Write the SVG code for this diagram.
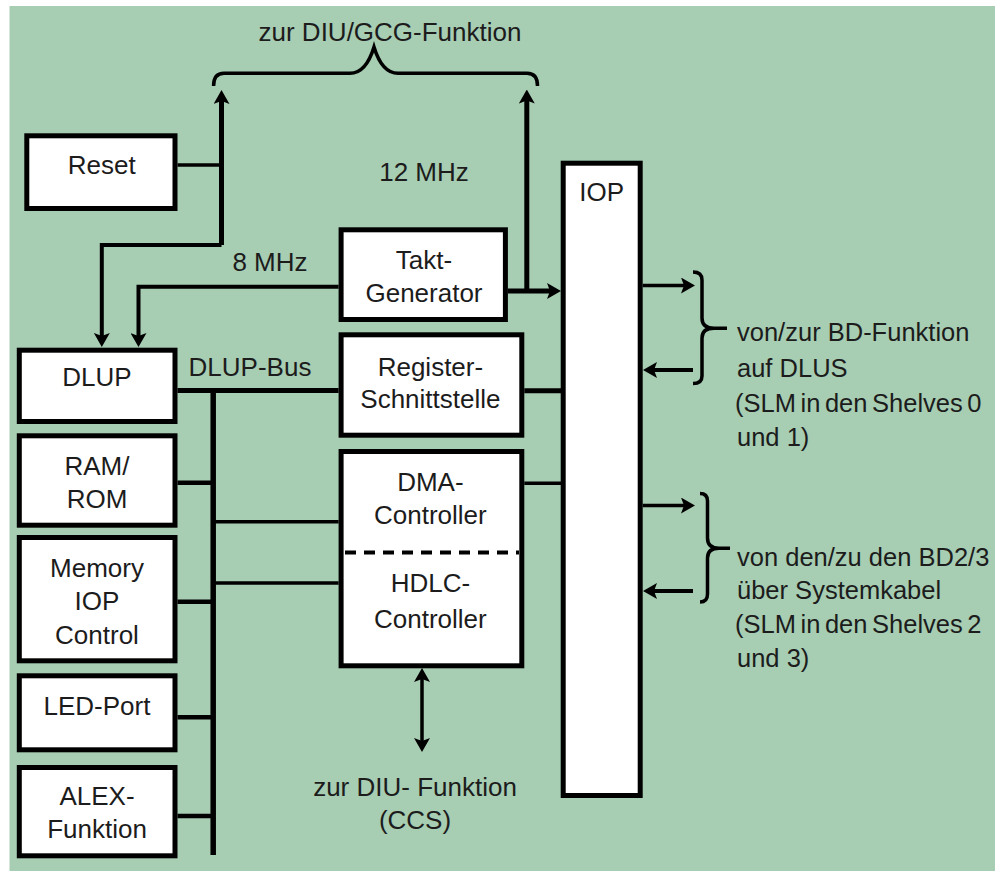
<svg xmlns="http://www.w3.org/2000/svg" width="995" height="871" viewBox="0 0 995 871">
<style>
.box{fill:#fff;stroke:#000;stroke-width:5}
.t{font-family:"Liberation Sans",Arial,sans-serif;font-size:26px;fill:#1c1c1c;text-anchor:middle}
.r{text-anchor:start;font-size:25.5px}
.w{word-spacing:-2.5px}
.c{fill:none;stroke:#000;stroke-linecap:butt;stroke-linejoin:miter}
</style>
<defs>
<marker id="ah" viewBox="0 0 14 16" markerWidth="14" markerHeight="16" refX="8" refY="8" orient="auto-start-reverse" markerUnits="userSpaceOnUse">
<path d="M0,0 L14,8 L0,16 L3,8 z" fill="#000"/>
</marker>
</defs>
<rect x="9.5" y="6" width="985.5" height="865" fill="#a7cdb3"/>
<text class="t" x="390" y="41">zur DIU/GCG-Funktion</text>
<text class="t" x="424" y="181">12 MHz</text>
<text class="t" x="270" y="271">8 MHz</text>
<text class="t" x="250" y="376">DLUP-Bus</text>
<text class="t" x="415" y="796">zur DIU- Funktion</text>
<text class="t" x="415" y="829">(CCS)</text>
<g id="labels-right">
<text class="t r" x="737" y="341">von/zur BD-Funktion</text>
<text class="t r" x="737" y="377">auf DLUS</text>
<text class="t r w" x="735" y="412">(SLM in den Shelves 0</text>
<text class="t r" x="737" y="446">und 1)</text>
<text class="t r" x="737" y="566">von den/zu den BD2/3</text>
<text class="t r" x="737" y="599">über Systemkabel</text>
<text class="t r w" x="735" y="633">(SLM in den Shelves 2</text>
<text class="t r" x="737" y="667">und 3)</text>
</g>
<g id="connectors">
<path class="c" stroke-width="3.5" d="M213.6,86 Q213.6,73.3 224,73.3 H350 Q366,73.3 374,47 Q382,73.3 398,73.3 H527 Q537.5,73.3 537.5,86"/>
<path class="c" stroke-width="3.5" d="M177.5,165 H221.5"/>
<path class="c" stroke-width="5" d="M221.5,245 V96" marker-end="url(#ah)"/>
<path class="c" stroke-width="4" d="M221.5,245 H101.8 V341" marker-end="url(#ah)"/>
<path class="c" stroke-width="4" d="M338.6,286.7 H138.5 V341" marker-end="url(#ah)"/>
<path class="c" stroke-width="5" d="M507.9,291 H555" marker-end="url(#ah)"/>
<path class="c" stroke-width="5" d="M526.8,291 V95.5" marker-end="url(#ah)"/>
<path class="c" stroke-width="5" d="M177.5,390.5 H338.6"/>
<path class="c" stroke-width="5.5" d="M213.2,388 V855"/>
<path class="c" stroke-width="5" d="M524.3,390.7 H561"/>
<path class="c" stroke-width="3.5" d="M524.3,483.3 H561"/>
<path class="c" stroke-width="3.5" d="M213,521.7 H338.6"/>
<path class="c" stroke-width="3.5" d="M213,583 H338.6"/>
<path class="c" stroke-width="4.5" d="M177.5,482.7 H213"/>
<path class="c" stroke-width="4.5" d="M177.5,601.7 H213"/>
<path class="c" stroke-width="4.5" d="M177.5,717.3 H213"/>
<path class="c" stroke-width="4.5" d="M177.5,816 H213"/>
<path class="c" stroke-width="3.5" d="M422,674 V746" marker-start="url(#ah)" marker-end="url(#ah)"/>
<path class="c" stroke-width="3.5" d="M642.7,285.5 H689" marker-end="url(#ah)"/>
<path class="c" stroke-width="4" d="M693,370 H649" marker-end="url(#ah)"/>
<path class="c" stroke-width="3.5" d="M642.7,505.5 H689" marker-end="url(#ah)"/>
<path class="c" stroke-width="4" d="M693,591 H649" marker-end="url(#ah)"/>
<path class="c" stroke-width="3.5" d="M693,272 Q702,272 702,280 V318 Q702,328.3 714,328.3 Q702,328.3 702,338 V376 Q702,383.5 693,383.5 M714,328.3 H727"/>
<path class="c" stroke-width="3.5" d="M700,493.5 Q707.5,493.5 707.5,501 V538 Q707.5,548.3 719,548.3 Q707.5,548.3 707.5,558 V594 Q707.5,602 700,602 M719,548.3 H730"/>
</g>
<g id="reset"><rect class="box" x="26.8" y="135.8" width="148.2" height="72.7"/><text class="t" x="101.8" y="174">Reset</text></g>
<g id="takt"><rect class="box" x="341.1" y="229.8" width="164.3" height="89.7"/><text class="t" x="424" y="269">Takt-</text><text class="t" x="424" y="302">Generator</text></g>
<g id="iop"><rect class="box" x="563.2" y="163.2" width="77" height="632.3"/><text class="t" x="601.7" y="201">IOP</text></g>
<g id="dlup"><rect class="box" x="19.3" y="350.2" width="155.7" height="71.3"/><text class="t" x="97" y="386">DLUP</text></g>
<g id="register"><rect class="box" x="341.1" y="334.8" width="180.7" height="100.4"/><text class="t" x="430.4" y="376">Register-</text><text class="t" x="430.4" y="408">Schnittstelle</text></g>
<g id="dma-hdlc"><rect class="box" x="341.1" y="451.5" width="180.7" height="214.3"/><path d="M345,552.5 H519" stroke="#000" stroke-width="4" stroke-dasharray="11 8"/><text class="t" x="430.4" y="491">DMA-</text><text class="t" x="430.4" y="524">Controller</text><text class="t" x="430.4" y="592">HDLC-</text><text class="t" x="430.4" y="628">Controller</text></g>
<g id="ramrom"><rect class="box" x="19.3" y="435.8" width="155.7" height="89.4"/><text class="t" x="97" y="475">RAM/</text><text class="t" x="97" y="508">ROM</text></g>
<g id="memory"><rect class="box" x="19.3" y="537.5" width="155.7" height="123.3"/><text class="t" x="97" y="577">Memory</text><text class="t" x="97" y="610">IOP</text><text class="t" x="97" y="644">Control</text></g>
<g id="ledport"><rect class="box" x="19.3" y="675.8" width="155.7" height="74"/><text class="t" x="97" y="715">LED-Port</text></g>
<g id="alex"><rect class="box" x="19.3" y="767.5" width="155.7" height="88.3"/><text class="t" x="97" y="805">ALEX-</text><text class="t" x="97" y="838">Funktion</text></g>
</svg>
